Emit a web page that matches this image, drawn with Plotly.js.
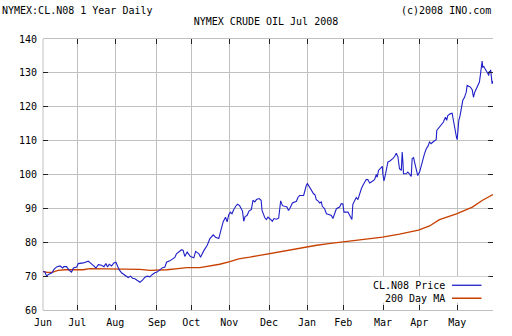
<!DOCTYPE html>
<html>
<head>
<meta charset="utf-8">
<script src="https://cdn.plot.ly/plotly-3.0.1.min.js"></script>
<style>html,body{margin:0;padding:0;background:#fff;}#chart{width:512px;height:336px;}</style>
</head>
<body>
<div id="chart"></div>
<script>
// Trading-day index (0 = start of chart, early June 2007)
const priceDay = [0,1,2,3,5,6,7.5,9.4,10.9,11.5,13,14.5,15.8,16.8,18.6,19.5,22.3,24.1,25,26,27.8,29.3,30.6,32.4,33.7,34.8,35.7,36.6,37.9,39.2,40.3,41,42.1,43.4,45.3,47.1,48.4,49.5,50.8,52.1,53.6,55,56.3,57.6,59.1,60.5,61.8,63.1,64.6,66.1,67.4,68.3,70.1,72,72.9,73.8,75.3,76.6,77.5,78.4,79.7,81.5,83.4,84.4,86.2,87.1,89,90.8,92.3,94.1,95.4,97.2,98.1,99.6,100.9,101.8,102.7,103.6,104.5,105.4,106.9,107.6,108.7,109.2,110.3,111,111.7,112.8,113.9,115.2,116.1,117.1,118,119.5,120.6,121.1,121.7,122.6,123.5,124.4,125.7,126.8,127.7,129,130.3,130.9,131.4,132.4,133.6,134.9,135.7,136.4,137.9,139.2,140.1,141,141.9,144.1,144.7,145.6,146.2,147,148,148.9,149.6,150.4,151.1,152,153,153.9,154.4,155.7,156.7,158.1,159.4,160.3,161.2,162.2,164,164.9,165.8,166.4,168.6,169.5,170.5,170.8,171.3,172.3,173.2,174.1,175,176,176.9,177.8,178.7,179.6,180.6,181.5,182.4,183.3,184.3,184.8,185.5,186.6,187.6,187.9,188.5,189.2,189.8,190.7,191.6,192.5,193.4,194.4,195.3,196.2,197.1,198.1,198.6,199,199.3,200.8,201.7,202.6,203.6,204.1,204.9,205.4,206.3,207.2,208.2,209.1,210,210.9,211.9,212.8,213.7,214.6,215.6,216.5,217.4,217.7,218.8,219.6,220.7,221.4,222.5,223.2,223.8,224.3,225.1,226.2,226.9,227.5,228,228.6,229,229.3,229.9,230.6,231.4,232.1,233,234,234.5,235.4,236.3,237.3,238,238.7,239.5,240.4,241.3,241.9,242.4,242.8,243.1,243.7,244.4,245.3,246.1,246.4,246.8,247.2,247.5,247.9,248.3,248.8];
const priceVal = [71.3,71.3,70.0,70.5,71.0,71.9,72.7,73.0,72.4,72.8,72.8,71.7,71.2,72.4,72.7,73.7,73.9,74.1,74.4,74.0,73.2,72.4,73.4,73.2,72.8,73.7,72.7,73.5,73.0,73.9,74.1,73.3,71.9,71.0,70.2,69.6,70.0,69.4,69.2,68.8,68.2,68.8,69.6,70.0,69.8,70.5,71.0,71.2,72.0,72.5,72.7,74.1,74.5,75.1,75.5,76.6,77.3,77.8,77.6,75.8,77.1,75.8,75.4,77.3,76.6,75.6,77.6,79.1,81.1,82.2,81.5,81.1,83.0,86.0,87.4,86.0,88.1,88.9,88.4,89.6,90.9,91.2,90.8,90.4,89.2,86.2,87.6,87.9,89.2,89.7,92.4,91.9,92.6,92.9,92.4,89.4,88.6,87.3,86.7,87.4,86.8,86.2,87.0,86.8,87.1,90.4,92.2,90.8,90.7,90.4,89.4,89.9,91.6,91.9,92.1,93.3,93.8,93.8,95.3,96.8,97.3,96.5,95.5,94.7,94.3,94.0,92.6,92.2,91.6,91.9,90.6,89.9,88.4,88.2,87.9,87.0,88.7,89.9,90.4,91.4,91.3,88.9,88.9,87.9,87.0,86.7,91.2,92.4,93.2,92.6,94.3,95.8,96.8,97.8,98.5,98.5,97.5,97.8,98.1,98.5,100.0,99.2,101.2,101.7,102.4,100.2,98.1,99.7,101.7,103.7,103.9,104.2,104.7,105.3,106.3,105.3,101.7,101.2,106.6,103.7,100.2,100.2,100.7,100.2,99.4,104.7,105.0,103.7,101.7,99.7,100.7,102.7,104.7,106.1,107.6,108.3,109.6,109.1,109.6,110.1,110.3,113.0,113.8,114.5,115.0,115.5,116.9,116.0,117.4,117.7,117.9,118.1,116.0,113.5,113.0,111.0,110.3,113.5,116.0,117.4,119.9,121.9,122.7,124.3,126.3,126.0,125.8,125.0,122.8,124.3,125.3,126.3,127.3,129.7,131.7,133.5,131.7,131.9,131.2,130.5,129.7,129.2,130.5,130.0,130.9,128.9,126.8,127.6];
const maDay = [0,2.2,5,8.3,12.1,22.1,26,41.4,46.9,53.6,59.1,66.3,68.5,74.5,79.5,86.7,92.2,97.7,103.3,108.2,114.3,121.5,129.2,136.4,143.6,151.3,157.9,165.7,175,187.7,197.1,207.6,213.7,219.2,228.6,237.4,243,248.8];
const maVal = [71.4,71.1,71.1,71.7,71.9,71.9,72.2,72.2,72.2,72.0,71.7,71.7,71.9,72.2,72.5,72.5,72.9,73.5,74.3,75.1,75.6,76.3,77.1,77.8,78.4,79.1,79.6,80.1,80.7,81.5,82.4,83.6,84.8,86.7,88.4,90.4,92.4,94.1];
const monthDay = [0,19,40,63,82,103,125,146,166,188,208,229];
const monthLabel = ['Jun','Jul','Aug','Sep','Oct','Nov','Dec','Jan','Feb','Mar','Apr','May'];
const yTicks = [60,70,80,90,100,110,120,130,140];
const seriesNames = ['CL.N08 Price','200 Day MA'];

const FONT = 'DejaVu Sans Mono, monospace';
const BLUE = '#2020c8', ORANGE = '#c84000';

const traces = [
  {x: maDay, y: maVal, type: 'scatter', mode: 'lines', name: seriesNames[1],
   line: {color: ORANGE, width: 1.4}, hoverinfo: 'skip'},
  {x: priceDay, y: priceVal, type: 'scatter', mode: 'lines', name: seriesNames[0],
   line: {color: BLUE, width: 1.1}, hoverinfo: 'skip'}
];

const L = 43, R = 493.5, T = 38.5, B = 310.3;
const pw = R - L, ph = B - T;
const px = v => (v - L) / pw;
const py = v => (B - v) / ph;

const layout = {
  width: 512, height: 336,
  margin: {l: 43, r: 18.5, t: 38.5, b: 25.7, pad: 0},
  paper_bgcolor: '#fff', plot_bgcolor: '#fff',
  showlegend: false,
  font: {family: FONT, size: 10, color: '#000'},
  title: {text: 'NYMEX CRUDE OIL Jul 2008', font: {family: FONT, size: 10, color: '#000'},
          xref: 'container', yref: 'container', x: 266/512, xanchor: 'center', y: 1 - 21/336, yanchor: 'middle'},
  xaxis: {range: [0, 248.8], tickvals: monthDay, ticktext: monthLabel,
          showgrid: true, gridcolor: '#c0c0c0', gridwidth: 1, zeroline: false,
          showline: true, linecolor: '#c0c0c0', linewidth: 1, mirror: 'ticks',
          ticks: 'inside', ticklen: 5, tickcolor: '#222', tickwidth: 1, ticklabelstandoff: 3,
          tickfont: {family: FONT, size: 10, color: '#000'}},
  yaxis: {range: [60, 140], tickvals: yTicks,
          showgrid: true, gridcolor: '#c0c0c0', gridwidth: 1, zeroline: false,
          showline: false, mirror: 'ticks',
          ticks: 'inside', ticklen: 5, tickcolor: '#222', tickwidth: 1, ticklabelstandoff: 5,
          tickfont: {family: FONT, size: 10, color: '#000'}},
  shapes: [
    {type: 'line', xref: 'paper', yref: 'paper', x0: 0, x1: 0, y0: 0, y1: 1,
     line: {color: '#c0c0c0', width: 1}, layer: 'below'},
    {type: 'rect', xref: 'paper', yref: 'paper', x0: px(370), x1: px(490), y0: py(303), y1: py(277),
     fillcolor: '#fff', line: {width: 0}, layer: 'above'},
    {type: 'line', xref: 'paper', yref: 'paper', x0: px(452.5), x1: px(482), y0: py(285.5), y1: py(285.5),
     line: {color: BLUE, width: 1.3}, layer: 'above'},
    {type: 'line', xref: 'paper', yref: 'paper', x0: px(452.5), x1: px(482), y0: py(298.5), y1: py(298.5),
     line: {color: ORANGE, width: 1.5}, layer: 'above'}
  ],
  annotations: [
    {text: 'NYMEX:CL.N08 1 Year Daily', xref: 'paper', yref: 'paper', x: px(0), y: py(10),
     xanchor: 'left', yanchor: 'middle', showarrow: false, font: {family: FONT, size: 10, color: '#000'}},
    {text: '(c)2008 INO.com', xref: 'paper', yref: 'paper', x: px(493.5), y: py(10),
     xanchor: 'right', yanchor: 'middle', showarrow: false, font: {family: FONT, size: 10, color: '#000'}},
    {text: seriesNames[0], xref: 'paper', yref: 'paper', x: px(447), y: py(285.5),
     xanchor: 'right', yanchor: 'middle', showarrow: false, font: {family: FONT, size: 10, color: '#000'}},
    {text: seriesNames[1], xref: 'paper', yref: 'paper', x: px(447), y: py(298.5),
     xanchor: 'right', yanchor: 'middle', showarrow: false, font: {family: FONT, size: 10, color: '#000'}}
  ]
};

Plotly.newPlot('chart', traces, layout, {staticPlot: true, displayModeBar: false});
</script>
</body>
</html>
